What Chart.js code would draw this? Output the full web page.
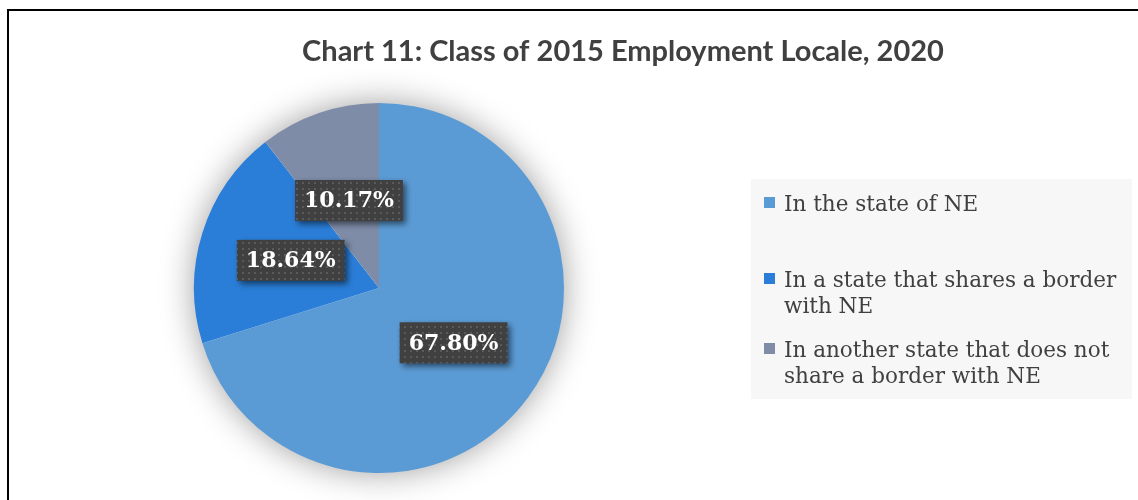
<!DOCTYPE html>
<html>
<head>
<meta charset="utf-8">
<script src="https://cdn.jsdelivr.net/npm/chart.js@4.4.0/dist/chart.umd.min.js"></script>
<style>
  html, body { margin: 0; padding: 0; background: #fff; }
  #wrap { position: relative; width: 1138px; height: 500px; }
  #frame {
    position: absolute; left: 7px; top: 9px; right: 0; bottom: 0;
    border-top: 2px solid #000; border-left: 2px solid #000;
    pointer-events: none;
  }
</style>
</head>
<body>
<div id="wrap">
  <canvas id="chart" width="1138" height="500"></canvas>
  <div id="frame"></div>
</div>
<script>
const chartTitle = "Chart 11: Class of 2015 Employment Locale, 2020";
const categories = [
  "In the state of NE",
  "In a state that shares a border with NE",
  "In another state that does not share a border with NE"
];
const percentValues = [67.80, 18.64, 10.17];
const sliceColors = ["#5B9BD5", "#2A7ED8", "#7E8CA8"];

const textGray = "#404040";

// dotted dark fill used behind the data labels
function makeDotPattern(ctx) {
  const c = document.createElement("canvas");
  c.width = 6; c.height = 6;
  const p = c.getContext("2d");
  p.fillStyle = "#404040";
  p.fillRect(0, 0, 6, 6);
  p.fillStyle = "#5a5a5a";
  p.fillRect(2, 2, 2, 2);
  return ctx.createPattern(c, "repeat");
}

function wrapLines(ctx, text, maxWidth) {
  const words = text.split(" ");
  const lines = [];
  let line = "";
  for (const w of words) {
    const test = line ? line + " " + w : w;
    if (ctx.measureText(test).width > maxWidth && line) {
      lines.push(line);
      line = w;
    } else {
      line = test;
    }
  }
  lines.push(line);
  return lines;
}

const pieShadow = {
  id: "pieShadow",
  beforeDatasetsDraw(chart) {
    const arc = chart.getDatasetMeta(0).data[0];
    if (!arc) return;
    const ctx = chart.ctx;
    ctx.save();
    ctx.shadowColor = "rgba(0,0,0,0.4)";
    ctx.shadowBlur = 34;
    ctx.fillStyle = "#ffffff";
    ctx.beginPath();
    ctx.arc(arc.x, arc.y, arc.outerRadius - 1, 0, Math.PI * 2);
    ctx.fill();
    ctx.restore();
  }
};

const titlePlugin = {
  id: "titleText",
  beforeDraw(chart) {
    const ctx = chart.ctx;
    ctx.save();
    ctx.font = "bold 29px Lato, 'Open Sans', sans-serif";
    ctx.fillStyle = textGray;
    ctx.textAlign = "center";
    ctx.textBaseline = "alphabetic";
    ctx.fillText(chartTitle, 623, 61, 645);
    ctx.restore();
  }
};

const boxLabels = {
  id: "boxLabels",
  afterDatasetsDraw(chart) {
    const ctx = chart.ctx;
    const pattern = makeDotPattern(ctx);
    const meta = chart.getDatasetMeta(0);
    ctx.save();
    ctx.font = "bold 22px 'DejaVu Serif', serif";
    meta.data.forEach((arc, i) => {
      const pos = arc.tooltipPosition();
      const txt = percentValues[i].toFixed(2) + "%";
      const w = ctx.measureText(txt).width + 18;
      const h = 41;
      const x = pos.x - w / 2, y = pos.y - h / 2;
      ctx.save();
      ctx.shadowColor = "rgba(0,0,0,0.55)";
      ctx.shadowBlur = 6;
      ctx.shadowOffsetX = 3;
      ctx.shadowOffsetY = 3;
      ctx.fillStyle = pattern;
      ctx.fillRect(x, y, w, h);
      ctx.restore();
      ctx.fillStyle = "#ffffff";
      ctx.textAlign = "center";
      ctx.textBaseline = "middle";
      ctx.fillText(txt, pos.x, pos.y + 1);
    });
    ctx.restore();
  }
};

const sideLegend = {
  id: "sideLegend",
  afterDraw(chart) {
    const ctx = chart.ctx;
    const colors = chart.data.datasets[0].backgroundColor;
    const baselines = [211, 287, 357];
    const lineH = 26;
    ctx.save();
    ctx.fillStyle = "#f7f7f7";
    ctx.fillRect(751, 179, 381, 220);
    ctx.font = "21.5px 'DejaVu Serif', serif";
    ctx.textBaseline = "alphabetic";
    ctx.textAlign = "left";
    chart.data.labels.forEach((label, i) => {
      const by = baselines[i];
      ctx.fillStyle = colors[i];
      ctx.fillRect(764, by - 14, 11, 11);
      ctx.fillStyle = textGray;
      wrapLines(ctx, label, 345).forEach((ln, k) => {
        ctx.fillText(ln, 784, by + k * lineH);
      });
    });
    ctx.restore();
  }
};

new Chart(document.getElementById("chart"), {
  type: "pie",
  data: {
    labels: categories,
    datasets: [{
      data: percentValues,
      backgroundColor: sliceColors,
      borderWidth: 0
    }]
  },
  options: {
    responsive: false,
    animation: false,
    events: [],
    layout: {
      padding: { left: 194, right: 574, top: 103, bottom: 27 }
    },
    plugins: {
      legend: { display: false },
      title: { display: false },
      tooltip: { enabled: false }
    }
  },
  plugins: [pieShadow, titlePlugin, boxLabels, sideLegend]
});
</script>
</body>
</html>
